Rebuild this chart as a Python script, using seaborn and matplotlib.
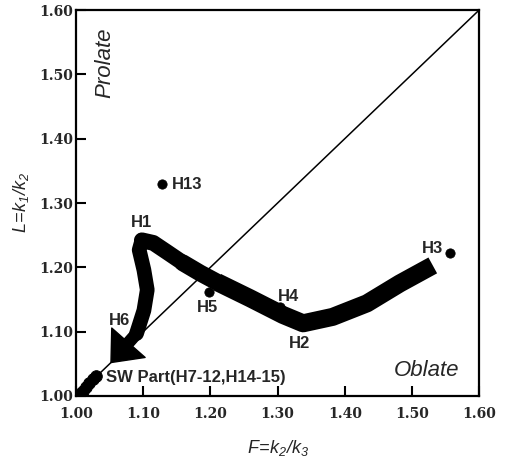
import numpy as np
import pandas as pd
import matplotlib
matplotlib.use('Agg')
import matplotlib.pyplot as plt
import seaborn as sns

# path of the fabric trend (thick band), from H3 round to the arrow at H6
curve_f = [1.531, 1.482, 1.433, 1.382, 1.338, 1.308, 1.259, 1.210, 1.185, 1.159, 1.135,
           1.115, 1.098, 1.094, 1.101, 1.106, 1.101, 1.094, 1.090]
curve_l = [1.203, 1.175, 1.144, 1.123, 1.113, 1.126, 1.152, 1.177, 1.191, 1.207, 1.224,
           1.238, 1.242, 1.227, 1.196, 1.165, 1.133, 1.110, 1.097]
arrow_tip = (1.052, 1.052)

# single sites
site_names = ['H13', 'H3', 'H4', 'H5']
site_f = [1.128, 1.557, 1.304, 1.198]
site_l = [1.329, 1.222, 1.138, 1.161]

# SW part cluster (H7-12, H14-15)
sw_f = [1.005, 1.010, 1.015, 1.020, 1.025, 1.030]
sw_l = [1.003, 1.008, 1.014, 1.020, 1.026, 1.031]

ticks = [1.00, 1.10, 1.20, 1.30, 1.40, 1.50, 1.60]

sns.set_style('ticks')
plt.rcParams['font.family'] = ['Liberation Sans', 'DejaVu Sans']
plt.rcParams['mathtext.fontset'] = 'custom'
plt.rcParams['mathtext.it'] = 'Liberation Sans:italic'
plt.rcParams['mathtext.rm'] = 'Liberation Sans:italic'

fig = plt.figure(figsize=(5.07, 4.57), dpi=100)
ax = fig.add_axes([0.150, 0.1335, 0.795, 0.8445])

# 1:1 line
ax.plot([1.0, 1.6], [1.0, 1.6], color='black', lw=1.1, zorder=1)

# thick band, getting a little thinner towards the arrow
pieces = [(0, 8, 13.0), (7, 10, 12.2), (9, 13, 11.4), (12, 19, 10.6)]
for i0, i1, w in pieces:
    seg = pd.DataFrame({'F': curve_f[i0:i1], 'L': curve_l[i0:i1]})
    sns.lineplot(data=seg, x='F', y='L', sort=False, estimator=None,
                 color='black', linewidth=w, ax=ax, zorder=3)
for ln in ax.lines[1:]:
    ln.set_solid_capstyle('round')
    ln.set_solid_joinstyle('round')
ax.lines[1].set_solid_capstyle('butt')

ax.annotate('', xy=arrow_tip, xytext=(curve_f[-1], curve_l[-1]),
            arrowprops=dict(facecolor='black', edgecolor='black', width=8,
                            headwidth=32, headlength=19, shrink=0),
            zorder=4)

sns.scatterplot(x=site_f, y=site_l, color='black', s=45, edgecolor='black', ax=ax, zorder=2)
sns.scatterplot(x=sw_f, y=sw_l, color='black', s=70, edgecolor='black', ax=ax, zorder=2)

lab = dict(fontsize=12, fontweight='bold', ha='center', va='center')
ax.text(1.165, 1.329, 'H13', **lab)
ax.text(1.098, 1.269, 'H1', **lab)
ax.text(1.530, 1.230, 'H3', **lab)
ax.text(1.316, 1.154, 'H4', **lab)
ax.text(1.195, 1.138, 'H5', **lab)
ax.text(1.333, 1.082, 'H2', **lab)
ax.text(1.065, 1.117, 'H6', **lab)
ax.text(1.045, 1.028, 'SW Part(H7-12,H14-15)', fontsize=12, fontweight='bold',
        ha='left', va='center')

ax.text(1.043, 1.518, 'Prolate', fontsize=16, style='italic', rotation=90,
        ha='center', va='center')
ax.text(1.522, 1.040, 'Oblate', fontsize=16, style='italic', ha='center', va='center')

ax.set_xlim(1.0, 1.6)
ax.set_ylim(1.0, 1.6)
ax.set_xticks(ticks)
ax.set_yticks(ticks)
ax.set_xticklabels([f'{t:.2f}' for t in ticks], family='DejaVu Serif', fontweight='bold', fontsize=10)
ax.set_yticklabels([f'{t:.2f}' for t in ticks], family='DejaVu Serif', fontweight='bold', fontsize=10)
ax.tick_params(direction='in', length=7, width=1.5, color='black')
ax.tick_params(axis='x', pad=8)
ax.tick_params(axis='y', pad=2)
for sp in ax.spines.values():
    sp.set_linewidth(1.6)
    sp.set_color('black')
    sp.set_visible(True)

ax.set_xlabel(r'$F\!=\!k_2/k_3$', fontsize=13, labelpad=12)
ax.set_ylabel(r'$L\!=\!k_1/k_2$', fontsize=13, labelpad=6)

fig.savefig('out.png', dpi=100)
